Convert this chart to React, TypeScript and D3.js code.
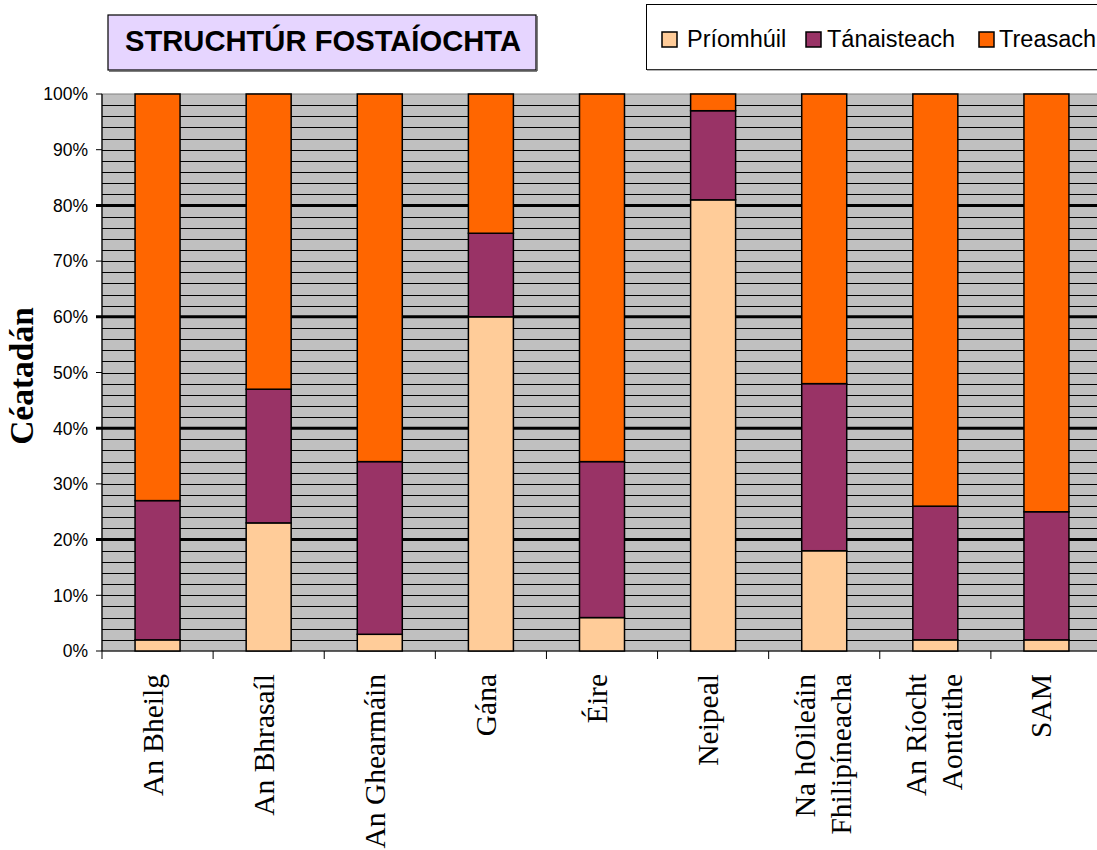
import React from "react";
import * as d3 from "d3";

const categories: string[][] = [
  ["An Bheilg"],
  ["An Bhrasaíl"],
  ["An Ghearmáin"],
  ["Gána"],
  ["Éire"],
  ["Neipeal"],
  ["Na hOileáin", "Fhilipíneacha"],
  ["An Ríocht", "Aontaithe"],
  ["SAM"],
];
const seriesNames = ["Príomhúil", "Tánaisteach", "Treasach"];
const seriesColors = ["#FFCC99", "#993366", "#FF6600"];
const primary = [2, 23, 3, 60, 6, 81, 18, 2, 2];
const secondary = [25, 24, 31, 15, 28, 16, 30, 24, 23];
const tertiary = [73, 53, 66, 25, 66, 3, 52, 74, 75];
const yTicks = [0, 10, 20, 30, 40, 50, 60, 70, 80, 90, 100];
const minorGrid = d3.range(2, 100, 2);
const majorGrid = [20, 40, 60, 80];

const W = 1097;
const H = 850;
const plotLeft = 102;
const plotRight = 1102;
const plotTop = 94;
const plotBottom = 651;

export default function App() {
  const keys = categories.map((c) => c.join(" "));
  const x = d3.scaleBand<string>().domain(keys).range([plotLeft, plotRight]).padding(0);
  const y = d3.scaleLinear().domain([0, 100]).range([plotBottom, plotTop]);
  const rows = keys.map((k, i) => ({ key: k, s0: primary[i], s1: secondary[i], s2: tertiary[i] }));
  const stack = d3.stack<any>().keys(["s0", "s1", "s2"]);
  const stacked = stack(rows);
  const barW = x.bandwidth() * 0.405;

  return (
    <svg width={W} height={H} style={{ position: "absolute", left: 0, top: 0, background: "#fff" }}>
      <defs>
        <clipPath id="clipView">
          <rect x={0} y={0} width={W} height={H} />
        </clipPath>
      </defs>
      {/* plot area */}
      <rect x={plotLeft} y={plotTop} width={plotRight - plotLeft} height={plotBottom - plotTop} fill="#C0C0C0" stroke="#808080" strokeWidth={1} />
      {minorGrid.filter((v) => !majorGrid.includes(v)).map((v) => (
        <line key={"mg" + v} x1={plotLeft} x2={plotRight} y1={Math.round(y(v)) + 0.5} y2={Math.round(y(v)) + 0.5} stroke="#000" strokeWidth={1.1} />
      ))}
      {majorGrid.map((v) => (
        <line key={"MG" + v} x1={plotLeft - 6} x2={plotRight} y1={y(v)} y2={y(v)} stroke="#000" strokeWidth={3} />
      ))}
      {/* y axis */}
      <line x1={plotLeft} x2={plotLeft} y1={plotTop} y2={plotBottom} stroke="#000" strokeWidth={1.2} />
      {yTicks.map((v) => (
        <g key={"yt" + v}>
          <line x1={plotLeft - 6} x2={plotLeft} y1={y(v)} y2={y(v)} stroke="#000" strokeWidth={1} />
          <text x={88} y={y(v)} dy="0.36em" textAnchor="end" fontFamily="Arial, 'Liberation Sans', sans-serif" fontSize={17.5} fill="#000">
            {v}%
          </text>
        </g>
      ))}
      {/* x axis */}
      <line x1={plotLeft} x2={plotRight} y1={plotBottom} y2={plotBottom} stroke="#000" strokeWidth={1.2} />
      {keys.map((k, i) => (
        <line key={"xt" + i} x1={x(k)!} x2={x(k)!} y1={plotBottom} y2={plotBottom + 8} stroke="#000" strokeWidth={1} />
      ))}
      <line x1={plotRight} x2={plotRight} y1={plotBottom} y2={plotBottom + 8} stroke="#000" strokeWidth={1} />
      {/* bars */}
      {stacked.map((layer, si) => (
        <g key={"s" + si}>
          {layer.map((d, i) => {
            const cx = x(keys[i])! + x.bandwidth() / 2;
            return (
              <rect
                key={i}
                x={cx - barW / 2}
                y={y(d[1])}
                width={barW}
                height={y(d[0]) - y(d[1])}
                fill={seriesColors[si]}
                stroke="#000"
                strokeWidth={1.5}
              />
            );
          })}
        </g>
      ))}
      {/* x labels */}
      {categories.map((lines, i) => {
        const cx = x(keys[i])! + x.bandwidth() / 2;
        const n = lines.length;
        return (
          <g key={"xl" + i}>
            {lines.map((ln, j) => {
              const bx = cx + (n === 1 ? 5 : -9 + j * 36);
              return (
                <text
                  key={j}
                  transform={`translate(${bx},674) rotate(-90)`}
                  textAnchor="end"
                  fontFamily="'Times New Roman', 'Liberation Serif', serif"
                  fontSize={29.5}
                  fill="#000"
                >
                  {ln}
                </text>
              );
            })}
          </g>
        );
      })}
      {/* y title */}
      <text
        transform={`translate(33,376) rotate(-90)`}
        textAnchor="middle"
        fontFamily="'Times New Roman', 'Liberation Serif', serif"
        fontWeight="bold"
        fontSize={33.5}
        fill="#000"
      >
        Céatadán
      </text>
      {/* title */}
      <rect x={108} y={15} width={428} height={55} fill="#E6D5FF" stroke="#000" strokeWidth={1.2} />
      <line x1={109} x2={537} y1={71} y2={71} stroke="#555" strokeWidth={1.5} />
      <line x1={537} x2={537} y1={16} y2={71} stroke="#555" strokeWidth={1.5} />
      <text x={323} y={51} textAnchor="middle" fontFamily="Arial, 'Liberation Sans', sans-serif" fontWeight="bold" fontSize={29.2} fill="#000">
        STRUCHTÚR FOSTAÍOCHTA
      </text>
      {/* legend */}
      <g clipPath="url(#clipView)">
        <rect x={646.5} y={4.5} width={470} height={65} fill="#fff" stroke="#000" strokeWidth={1} />
        <line x1={647} x2={1110} y1={70} y2={70} stroke="#666" strokeWidth={1} />
        {seriesNames.map((nm, i) => {
          const sx = [662, 806, 979][i];
          const tx = [687, 827, 999][i];
          return (
            <g key={"lg" + i}>
              <rect x={sx} y={32} width={15} height={15} fill={seriesColors[i]} stroke="#000" strokeWidth={1.5} />
              <text x={tx} y={47} fontFamily="Arial, 'Liberation Sans', sans-serif" fontSize={23.5} fill="#000">
                {nm}
              </text>
            </g>
          );
        })}
      </g>
    </svg>
  );
}
